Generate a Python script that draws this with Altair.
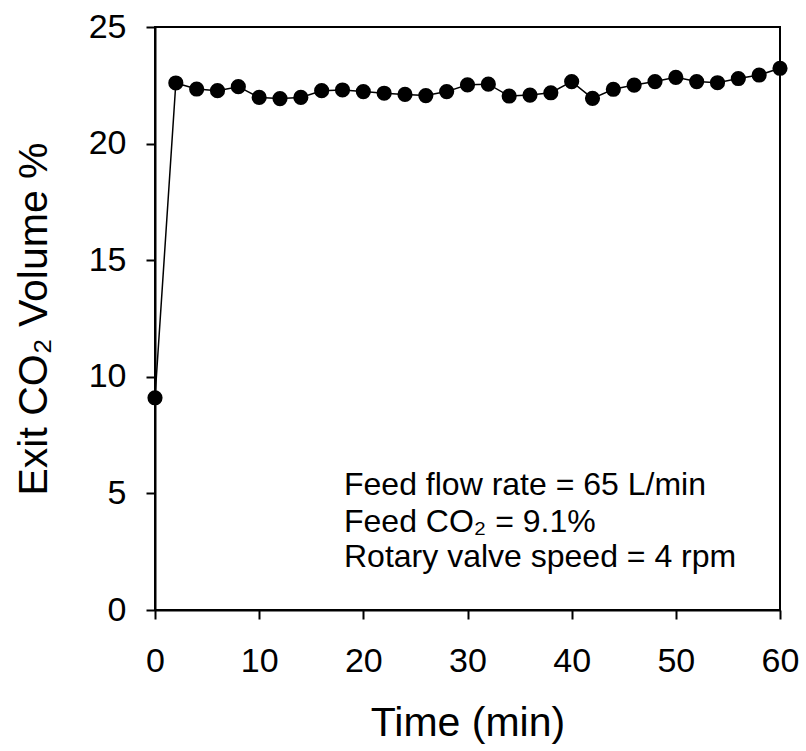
import altair as alt
import pandas as pd

time_min = [0, 2, 4, 6, 8, 10, 12, 14, 16, 18, 20, 22, 24, 26, 28, 30,
            32, 34, 36, 38, 40, 42, 44, 46, 48, 50, 52, 54, 56, 58, 60]
exit_co2 = [9.1, 22.6, 22.34, 22.27, 22.44, 21.98, 21.93, 21.98, 22.27, 22.3, 22.23,
            22.16, 22.11, 22.06, 22.23, 22.52, 22.55, 22.04, 22.08, 22.18, 22.66,
            21.94, 22.33, 22.51, 22.66, 22.84, 22.66, 22.61, 22.79, 22.94, 23.23]
notes = ["Feed flow rate = 65 L/min", "Feed CO\u2082 = 9.1%", "Rotary valve speed = 4 rpm"]
note_y = [4.93, 3.36, 1.85]

df = pd.DataFrame({"t": time_min, "v": exit_co2})
ndf = pd.DataFrame({"txt": notes, "y": note_y})

FONT = "Liberation Sans"
xs = alt.Scale(domain=[0, 60], nice=False, zero=False)
ys = alt.Scale(domain=[0, 25], nice=False)

base = alt.Chart(df)
line = base.mark_line(color="black", strokeWidth=1.5).encode(
    x=alt.X("t:Q", scale=xs,
            axis=alt.Axis(title="Time (min)", values=[0, 10, 20, 30, 40, 50, 60],
                          grid=False, tickSize=9, labelPadding=25, titlePadding=25,
                          labelFlush=False, labelOverlap=False, labelBound=False)),
    y=alt.Y("v:Q", scale=ys,
            axis=alt.Axis(title="Exit CO\u2082 Volume %", values=[0, 5, 10, 15, 20, 25],
                          grid=False, tickSize=9, labelPadding=20, titlePadding=33,
                          labelFlush=False, labelOverlap=False)),
)
pts = base.mark_circle(color="black", opacity=1, size=230).encode(
    x=alt.X("t:Q", scale=xs), y=alt.Y("v:Q", scale=ys))
txt = alt.Chart(ndf).mark_text(align="left", baseline="alphabetic", font=FONT,
                                fontSize=32, color="black").encode(
    x=alt.value(189), y=alt.Y("y:Q", scale=ys), text="txt:N")

chart = (line + pts + txt).properties(
    width=625, height=583,
    background="white",
    autosize=alt.AutoSizeParams(type="none"),
    padding={"left": 155, "top": 27, "right": 26, "bottom": 141},
).configure_view(stroke="black", strokeWidth=2).configure_axis(
    domainColor="black", tickColor="black", domainWidth=2, tickWidth=2,
    labelFont=FONT, titleFont=FONT, labelFontSize=34, titleFontSize=41,
    labelColor="black", titleColor="black", titleFontWeight="normal",
)

chart.save("out.html", embed_options={"renderer": "svg", "actions": False})
